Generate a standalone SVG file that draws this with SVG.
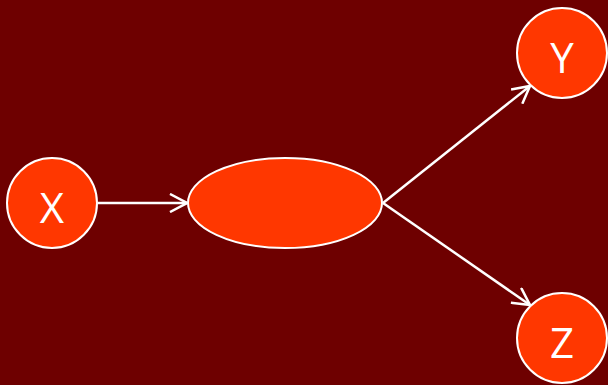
<svg xmlns="http://www.w3.org/2000/svg" width="608" height="385" viewBox="0 0 608 385">
<style>
.n{fill:#FF3700;stroke:#FFFFFF;stroke-width:2}
.t{fill:#FFFFFF;font-family:"Open Sans","DejaVu Sans",sans-serif;font-size:42px;text-anchor:middle;dominant-baseline:central}
.e{stroke:#FFFFFF;stroke-width:2.5;fill:none;marker-end:url(#a)}
</style>
<defs>
<marker id="a" viewBox="0 0 20 20" refX="19" refY="10" markerWidth="20" markerHeight="20" markerUnits="userSpaceOnUse" orient="auto">
<path d="M2,1 L19,10 L2,19" fill="none" stroke="#FFFFFF" stroke-width="2.5"/>
</marker>
</defs>
<rect width="608" height="385" fill="#6E0000"/>
<g id="connectors">
<line class="e" x1="98" y1="203" x2="187" y2="203"/>
<line class="e" x1="383" y1="203" x2="530" y2="86"/>
<line class="e" x1="383" y1="203" x2="530" y2="305"/>
</g>
<g id="X"><circle class="n" cx="52" cy="203" r="45"/><text class="t" x="52" y="206">X</text></g>
<g id="M"><ellipse class="n" cx="285" cy="203" rx="97" ry="45"/></g>
<g id="Y"><circle class="n" cx="562" cy="53" r="45"/><text class="t" x="562" y="56">Y</text></g>
<g id="Z"><circle class="n" cx="562" cy="338" r="45"/><text class="t" x="562" y="341">Z</text></g>
</svg>
